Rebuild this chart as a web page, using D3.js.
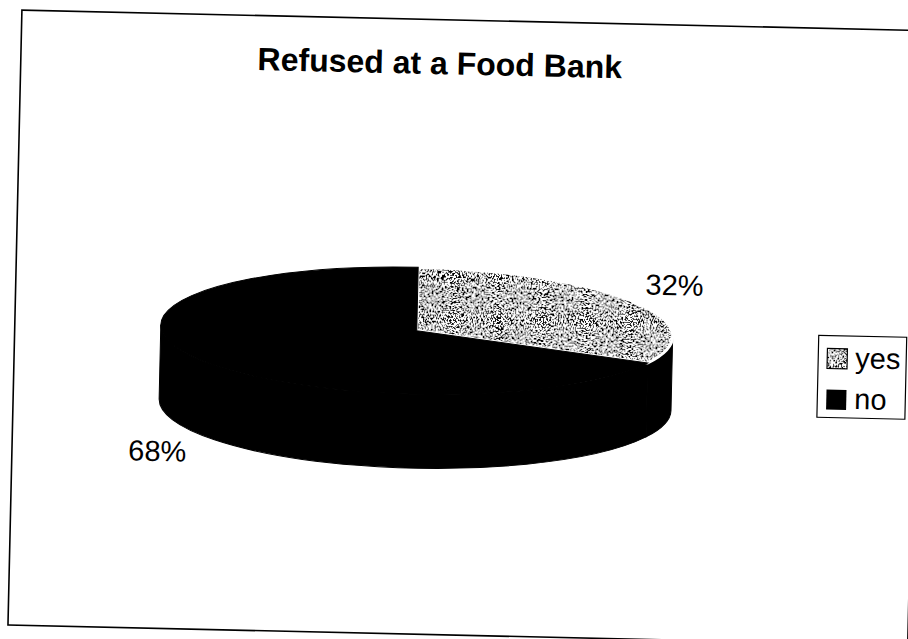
<!DOCTYPE html>
<html>
<head>
<meta charset="utf-8">
<script src="https://cdn.jsdelivr.net/npm/d3@7"></script>
<style>
  html, body { margin: 0; padding: 0; background: #fff; }
  svg { display: block; }
  text { font-family: "Liberation Sans", Arial, Helvetica, sans-serif; fill: #000; }
</style>
</head>
<body>
<script>
// Chart data
const title = "Refused at a Food Bank";
const categories = ["yes", "no"];
const values = [32, 68];
const labelFormat = v => `${v}%`;

const W = 908, H = 639;
const svg = d3.select("body").append("svg").attr("width", W).attr("height", H);

// Speckled fill used for the "yes" slice
const defs = svg.append("defs");
const f = defs.append("filter").attr("id", "speckle")
  .attr("x", 0).attr("y", 0).attr("width", "100%").attr("height", "100%");
f.append("feTurbulence").attr("type", "fractalNoise").attr("baseFrequency", 0.6)
  .attr("numOctaves", 3).attr("seed", 7).attr("result", "noise");
f.append("feColorMatrix").attr("in", "noise").attr("type", "matrix")
  .attr("values", "1 0 0 0 0  1 0 0 0 0  1 0 0 0 0  0 0 0 0 1").attr("result", "gray");
const ct = f.append("feComponentTransfer").attr("in", "gray").attr("result", "bw");
["feFuncR", "feFuncG", "feFuncB"].forEach(n =>
  ct.append(n).attr("type", "discrete").attr("tableValues", "0 1"));
f.append("feComposite").attr("in", "bw").attr("in2", "SourceGraphic").attr("operator", "in");

const fills = d3.scaleOrdinal().domain(categories).range(["speckle", "#000"]);

// Whole chart sits slightly tilted on the page
const g = svg.append("g").attr("transform", "rotate(1.3 454 320)");

// Chart area frame
g.append("rect").attr("x", 15).attr("y", 20).attr("width", 900).attr("height", 615)
  .attr("fill", "none").attr("stroke", "#000").attr("stroke-width", 1.6);

// Title
g.append("text").attr("x", 434).attr("y", 74.5).attr("text-anchor", "middle")
  .attr("font-size", 32).attr("font-weight", "bold").text(title);

// 3D pie geometry
const cx = 417, cy = 331.5, rx = 256, ry = 63.5, depth = 74;
const P = (a, dy = 0) => [cx + rx * Math.sin(a), cy - ry * Math.cos(a) + dy];

const arcs = d3.pie().sort(null).value(d => d)(values);

// Front walls (visible between 90° and 270°)
arcs.forEach((d, i) => {
  const a0 = Math.max(d.startAngle, Math.PI / 2);
  const a1 = Math.min(d.endAngle, 3 * Math.PI / 2);
  if (a1 <= a0) return;
  const p0 = P(a0), p1 = P(a1), q1 = P(a1, depth), q0 = P(a0, depth);
  const large = (a1 - a0) > Math.PI ? 1 : 0;
  const path = `M${p0}A${rx},${ry} 0 ${large} 1 ${p1}L${q1}A${rx},${ry} 0 ${large} 0 ${q0}Z`;
  g.append("path").attr("d", path).attr("fill", "#000").attr("stroke", "#000").attr("stroke-width", 1);
});

// Top faces
arcs.forEach((d, i) => {
  const p0 = P(d.startAngle), p1 = P(d.endAngle);
  const large = (d.endAngle - d.startAngle) > Math.PI ? 1 : 0;
  const path = `M${cx},${cy}L${p0}A${rx},${ry} 0 ${large} 1 ${p1}Z`;
  const fill = fills(categories[i]);
  if (fill === "speckle") {
    g.append("path").attr("d", path).attr("fill", "#fff");
    g.append("path").attr("d", path).attr("fill", "#fff").attr("filter", "url(#speckle)");
    g.append("path").attr("d", path).attr("fill", "none").attr("stroke", "#fff").attr("stroke-width", 3);
  } else {
    g.append("path").attr("d", path).attr("fill", fill).attr("stroke", "#000").attr("stroke-width", 1);
  }
});

// Percentage labels
const lx = 48, ly = 33;
arcs.forEach((d, i) => {
  const mid = (d.startAngle + d.endAngle) / 2;
  const x = cx + (rx + lx) * Math.sin(mid);
  const y = cy - (ry + ly) * Math.cos(mid) + (Math.cos(mid) < 0 ? depth : 0);
  g.append("text").attr("x", x).attr("y", y).attr("dy", "0.36em")
    .attr("text-anchor", "middle").attr("font-size", 29).text(labelFormat(values[i]));
});

// Legend
const lg = g.append("g").attr("transform", "translate(819,327)");
lg.append("rect").attr("width", 88).attr("height", 82)
  .attr("fill", "#fff").attr("stroke", "#000").attr("stroke-width", 1.2);
categories.forEach((c, i) => {
  const y0 = 13 + i * 41;
  const fill = fills(c);
  if (fill === "speckle") {
    lg.append("rect").attr("x", 9).attr("y", y0).attr("width", 20).attr("height", 20).attr("fill", "#fff");
    lg.append("rect").attr("x", 9).attr("y", y0).attr("width", 20).attr("height", 20)
      .attr("fill", "#fff").attr("filter", "url(#speckle)");
    lg.append("rect").attr("x", 9).attr("y", y0).attr("width", 20).attr("height", 20)
      .attr("fill", "none").attr("stroke", "#000").attr("stroke-width", 1.2);
  } else {
    lg.append("rect").attr("x", 9).attr("y", y0).attr("width", 20).attr("height", 20).attr("fill", fill);
  }
  lg.append("text").attr("x", 37).attr("y", y0 + 19).attr("font-size", 29).text(c);
});
</script>
</body>
</html>
